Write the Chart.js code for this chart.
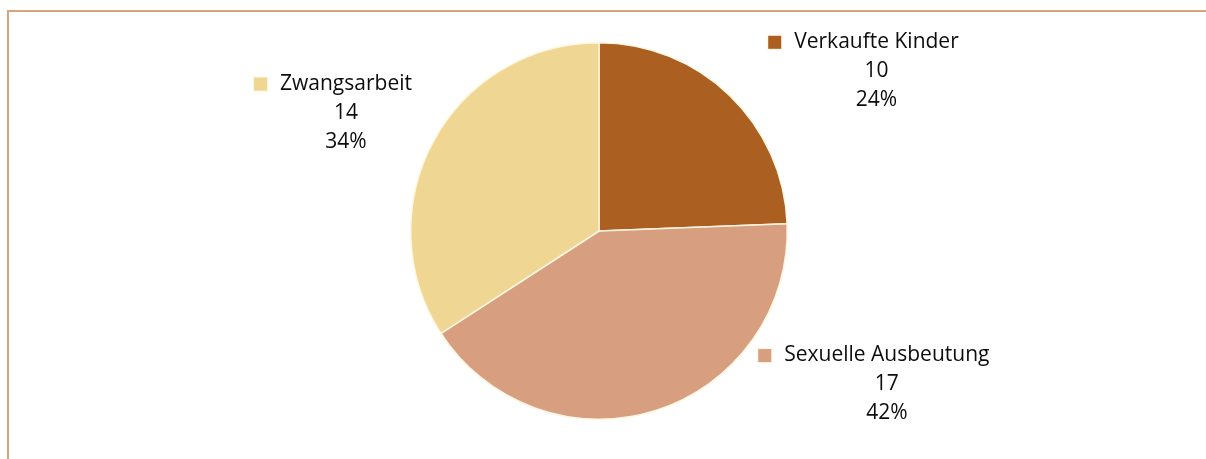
<!DOCTYPE html>
<html>
<head>
<meta charset="utf-8">
<script src="https://cdn.jsdelivr.net/npm/chart.js@4.4.0/dist/chart.umd.min.js"></script>
<style>
  html, body { margin: 0; padding: 0; background: #fff; }
  #wrap { position: relative; width: 1206px; height: 459px; overflow: hidden; }
  #frame { position: absolute; left: 7px; top: 10px; right: -10px; bottom: -10px;
           border-top: 2px solid #D9A47C; border-left: 2px solid #D9A47C; }
  canvas { position: absolute; left: 0; top: 0; }
</style>
</head>
<body>
<div id="wrap">
  <div id="frame"></div>
  <canvas id="myChart" width="1206" height="459"></canvas>
</div>
<script>
var categories = ["Verkaufte Kinder", "Sexuelle Ausbeutung", "Zwangsarbeit"];
var values = [10, 17, 14];
var percents = [24, 42, 34];
var colors = ["#AB5F20", "#D89E80", "#EFD692"];

// where each label block sits, in pie radii from the centre (first line)
var labelOffsets = [[1.474, -1.005], [1.529, 0.659], [-1.344, -0.783]];

var pieLabels = {
    id: "pieLabels",
    afterDatasetsDraw: function (chart) {
        var ctx = chart.ctx;
        var meta = chart.getDatasetMeta(0);
        ctx.save();
        ctx.font = "21px 'Open Sans'";
        ctx.textBaseline = "middle";
        ctx.textAlign = "center";
        meta.data.forEach(function (arc, i) {
            var r = arc.outerRadius;
            var cx = arc.x + labelOffsets[i][0] * r;
            var cy = arc.y + labelOffsets[i][1] * r;
            var lines = [categories[i], String(values[i]), percents[i] + "%"];
            ctx.fillStyle = "#0d0d0d";
            lines.forEach(function (t, k) {
                ctx.fillText(t, cx, cy + k * 29);
            });
            var w = ctx.measureText(categories[i]).width;
            var sx = cx - w / 2 - 26;
            ctx.fillStyle = "#FFF6E0";
            ctx.fillRect(sx - 1, cy - 7, 15, 15);
            ctx.fillStyle = colors[i];
            ctx.fillRect(sx, cy - 6, 13, 13);
        });
        ctx.restore();
    }
};

var ctx = document.getElementById("myChart");
var myChart = new Chart(ctx, {
    type: "pie",
    data: {
        labels: categories,
        datasets: [
            {
                data: values,
                backgroundColor: colors,
                borderColor: "#FFF6E0",
                borderWidth: 1.5,
            },
        ],
    },
    options: {
        responsive: false,
        animation: false,
        layout: { padding: { top: 42, bottom: 39, left: 410, right: 418 } },
        plugins: {
            legend: { display: false },
            tooltip: { enabled: false },
        },
    },
    plugins: [pieLabels],
});
</script>
</body>
</html>
